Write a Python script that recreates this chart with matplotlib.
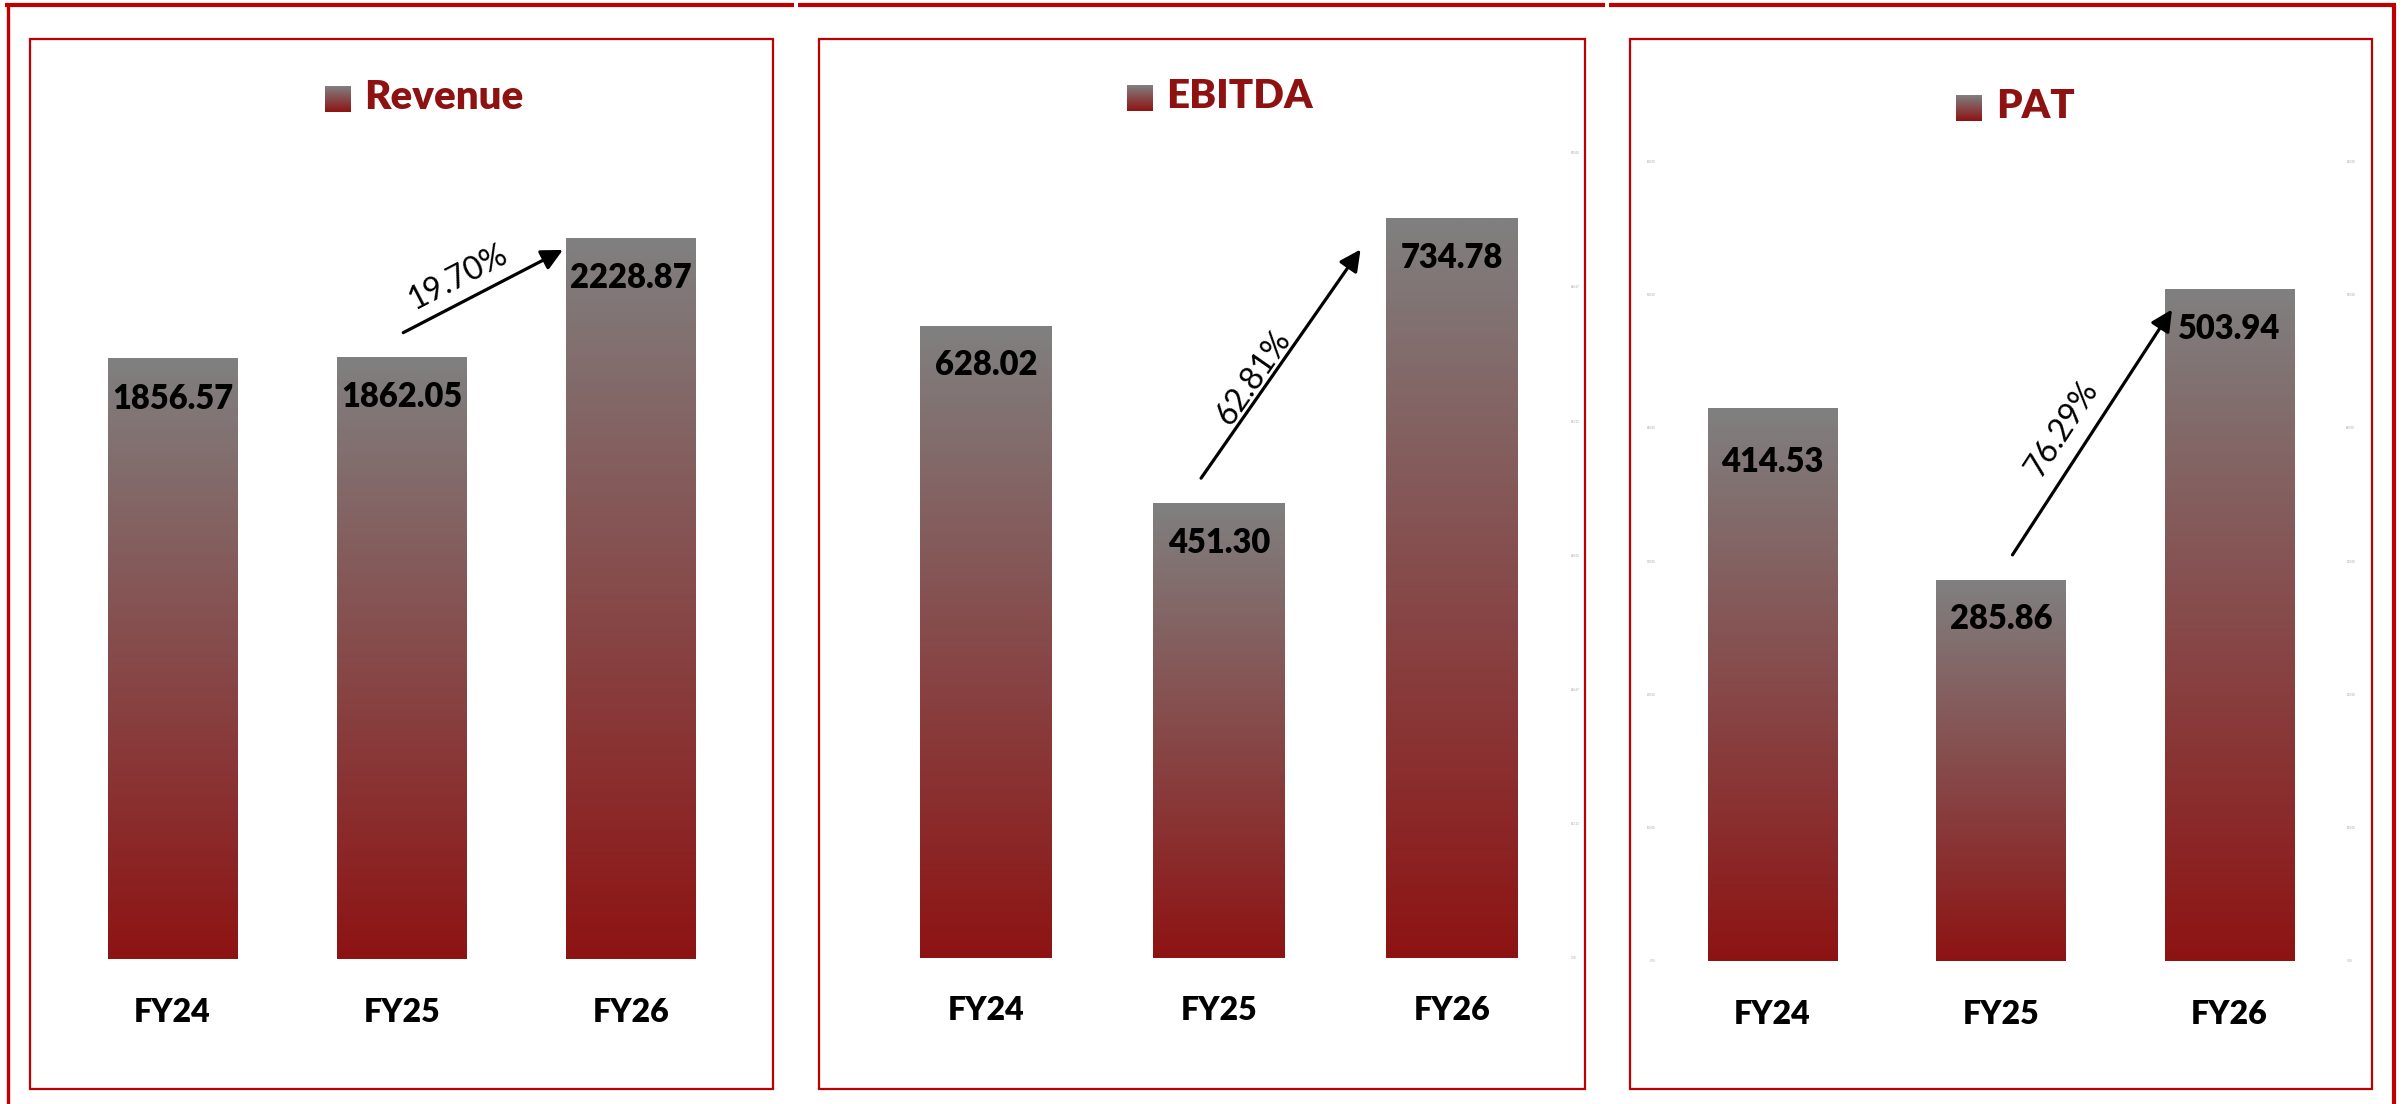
import numpy as np
import matplotlib.pyplot as plt
from matplotlib.colors import LinearSegmentedColormap
from matplotlib.patches import Rectangle
from matplotlib.lines import Line2D

plt.rcParams['font.family'] = ['Lato', 'DejaVu Sans']

# data
years = ["FY24", "FY25", "FY26"]
revenue = [1856.57, 1862.05, 2228.87]
ebitda = [628.02, 451.30, 734.78]
pat = [414.53, 285.86, 503.94]
growth = ["19.70%", "62.81%", "76.29%"]
titles = ["Revenue", "EBITDA", "PAT"]

W, H = 2405, 1104
RED = "#8E1212"
LINE_RED = "#C00000"
cmap = LinearSegmentedColormap.from_list("bar", ["#8E1313", "#808080"])
grad = np.linspace(0, 1, 256).reshape(-1, 1)

fig = plt.figure(figsize=(W / 100, H / 100), dpi=100)


def px_rect(x0, y0, x1, y1):
    # pixel box (y from top) -> figure fraction [l, b, w, h]
    return [x0 / W, 1 - y1 / H, (x1 - x0) / W, (y1 - y0) / H]


# layout of each panel (pixels)
panels = [
    dict(vals=revenue, ymax=2500, ax=(57.95, 151.5, 745.85, 959.5), box=(30, 38.5, 773, 1089),
         marker=(324.8, 86, 350.4, 111.7), title_xy=(364.5, 109.3),
         arrow=((1.006, 1.0416), (1.702, 0.985)), yticks=None, drops=[35.5, 35.5, 35.5]),
    dict(vals=ebitda, ymax=800, ax=(869.8, 152.8, 1568.2, 957.6), box=(819, 38.5, 1585, 1089),
         marker=(1126.9, 85, 1152.9, 110.7), title_xy=(1165.9, 108.3),
         arrow=((0.923, 1.056), (1.608, 0.958)), yticks="right", drops=[35.5, 35.5, 35.5]),
    dict(vals=pat, ymax=600, ax=(1658.0, 161.4, 2343.6, 961.0), box=(1630, 38.5, 2372, 1089),
         marker=(1956.3, 95, 1982.1, 120.7), title_xy=(1995.8, 118.3),
         arrow=((1.051, 1.066), (1.749, 0.970)), yticks="both", drops=[46, 35.5, 35.5]),
]
text_offsets = [(24, -16), (15, -27), (27, -14)]  # (normal, along) px

for i, p in enumerate(panels):
    ax = fig.add_axes(px_rect(*p["ax"]))
    x = np.arange(len(years))
    bars = ax.bar(x, p["vals"], width=0.565, color="none", edgecolor="none")
    for rect in bars:
        x0 = rect.get_x()
        ax.imshow(grad, extent=[x0, x0 + rect.get_width(), 0, rect.get_height()],
                  cmap=cmap, aspect="auto", origin="lower", zorder=2)
    ax.set_xlim(-0.5, 2.5)
    ax.set_ylim(0, p["ymax"])
    for s in ax.spines.values():
        s.set_visible(False)
    ax.set_xticks([])

    if p["yticks"] is None:
        ax.set_yticks([])
    else:
        ax.set_yticks(np.linspace(0, p["ymax"], 7))
        ax.yaxis.set_major_formatter(plt.FuncFormatter(lambda v, _: f"{v:.2f}"))
        ax.tick_params(axis="y", length=0, labelsize=2, labelcolor="#a0a0a0",
                       labelleft=(p["yticks"] == "both"), labelright=True, pad=2)

    for rect, v, dr in zip(bars, p["vals"], p["drops"]):
        ax.annotate(f"{v:.2f}", xy=(rect.get_x() + rect.get_width() / 2, v),
                    xytext=(0, -dr), textcoords="offset points", ha="center",
                    va="baseline", fontsize=23.5, fontweight="heavy", color="black", zorder=5)
    for xi, yr in zip(x, years):
        ax.annotate(yr, xy=(xi, 0), xytext=(0, -45), textcoords="offset points",
                    ha="center", va="baseline", fontsize=23, fontweight="heavy",
                    color="black", annotation_clip=False)

    # growth arrow FY25 -> FY26
    (sx, sf), (ex, ef) = p["arrow"]
    start = (sx, p["vals"][1] * sf)
    end = (ex, p["vals"][2] * ef)
    ax.annotate("", xy=end, xytext=start,
                arrowprops=dict(arrowstyle="-|>", lw=2.3, color="black",
                                mutation_scale=32, shrinkA=0, shrinkB=0), zorder=6)
    d0 = ax.transData.transform(start)
    d1 = ax.transData.transform(end)
    ang = np.degrees(np.arctan2(d1[1] - d0[1], d1[0] - d0[0]))
    t = np.radians(ang)
    nrm, alg = text_offsets[i]
    ox = -np.sin(t) * nrm + np.cos(t) * alg
    oy = np.cos(t) * nrm + np.sin(t) * alg
    mid = ((start[0] + end[0]) / 2, (start[1] + end[1]) / 2)
    ax.annotate(growth[i], xy=mid, xytext=(ox * 0.72, oy * 0.72), textcoords="offset points",
                ha="center", va="center", rotation=ang, rotation_mode="anchor",
                fontsize=23, color="black", zorder=6)

    # title with gradient marker
    max_ = fig.add_axes(px_rect(*p["marker"]))
    max_.imshow(grad, cmap=cmap, aspect="auto", origin="lower")
    max_.axis("off")
    tx, ty = p["title_xy"]
    fig.text(tx / W, 1 - ty / H, titles[i], fontsize=29, fontweight="heavy",
             color=RED, ha="left", va="baseline")

    # inner frame
    bx0, by0, bx1, by1 = p["box"]
    fig.add_artist(Rectangle((bx0 / W, 1 - by1 / H), (bx1 - bx0) / W, (by1 - by0) / H,
                             transform=fig.transFigure, fill=False,
                             edgecolor=LINE_RED, lw=1.6))

# outer frame lines
for xa, xb in [(5, 794), (798, 1605), (1609, 2396)]:
    fig.add_artist(Line2D([xa / W, xb / W], [1 - 4.7 / H] * 2, transform=fig.transFigure,
                          color=LINE_RED, lw=3.0, solid_capstyle="butt"))
fig.add_artist(Line2D([7.8 / W] * 2, [0, 1 - 4.7 / H], transform=fig.transFigure,
                      color=LINE_RED, lw=2.4, solid_capstyle="butt"))
fig.add_artist(Line2D([2394 / W] * 2, [0, 1 - 4.7 / H], transform=fig.transFigure,
                      color=LINE_RED, lw=3.0, solid_capstyle="butt"))

fig.savefig("out.png", dpi=100)
